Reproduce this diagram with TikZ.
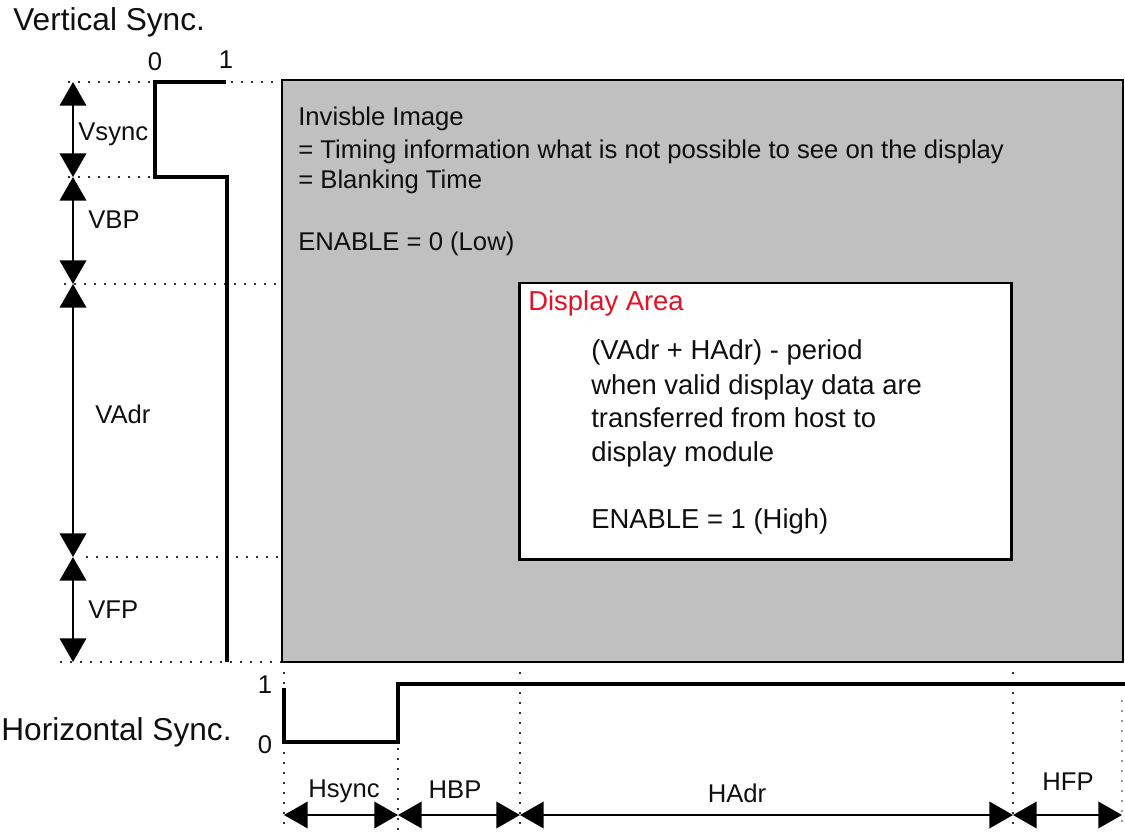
\documentclass[tikz,border=0pt]{standalone}
\usepackage{fontspec}
\setmainfont{Liberation Sans}
\usetikzlibrary{arrows.meta}
\definecolor{blankgray}{RGB}{192,192,192}
\definecolor{txt}{RGB}{15,15,15}
\definecolor{areared}{RGB}{228,18,38}
\tikzset{
  lbl/.style={inner sep=0pt, text=txt, font=\fontsize{14.6}{17}\selectfont},
  biglbl/.style={inner sep=0pt, text=txt, font=\fontsize{18}{21}\selectfont},
  inlbl/.style={inner sep=0pt, text=txt, font=\fontsize{15.6}{19}\selectfont},
  dotln/.style={line width=1.1pt, dash pattern=on 1.1pt off 4.6pt, black!80},
  wave/.style={line width=2.3pt, line join=miter},
  dimarrow/.style={line width=1.6pt, {Triangle[length=13.5pt,width=15pt]}-{Triangle[length=13.5pt,width=15pt]}},
}
\begin{document}
\begin{tikzpicture}[x=0.02cm,y=-0.02cm]
\useasboundingbox (0,0) rectangle (1125,832);

% areas
\draw[fill=blankgray, line width=1.1pt] (282,80) rectangle (1123,662);
\draw[fill=white, line width=1.7pt] (519,283) rectangle (1011,559);

% dotted guide lines (vertical sync)
\draw[dotln] (68,82) -- (151,82);
\draw[dotln] (231,82) -- (280,82);
\draw[dotln] (68,177) -- (152,177);
\draw[dotln] (64,284) -- (280,284);
\draw[dotln] (86,557) -- (280,557);
\draw[dotln] (60,662) -- (281,662);
% dotted guide lines (horizontal sync)
\draw[dotln] (284,672) -- (284,830);
\draw[dotln] (398,748) -- (398,830);
\draw[dotln] (520,672) -- (520,830);
\draw[dotln] (1013,672) -- (1013,830);
\draw[dotln, black!40] (1122,700) -- (1122,830);

% coordinates for dimension arrows
\coordinate (v0) at (73,82);
\coordinate (v1) at (73,177);
\coordinate (v2) at (73,284);
\coordinate (v3) at (73,557);
\coordinate (v4) at (73,662);
\coordinate (h0) at (284,815);
\coordinate (h1) at (398,815);
\coordinate (h2) at (520,815);
\coordinate (h3) at (1013,815);
\coordinate (h4) at (1122,815);

\draw[dimarrow] (v0) -- (v1);
\draw[dimarrow] (v1) -- (v2);
\draw[dimarrow] (v2) -- (v3);
\draw[dimarrow] (v3) -- (v4);
\draw[dimarrow] (h0) -- (h1);
\draw[dimarrow] (h1) -- (h2);
\draw[dimarrow] (h2) -- (h3);
\draw[dimarrow] (h3) -- (h4);

% waveforms
\coordinate (va) at (226,82);
\coordinate (vb) at (155,82);
\coordinate (vc) at (155,177);
\coordinate (vd) at (227,177);
\coordinate (ve) at (227,662);
\draw[wave] (va) -- (vb) -- (vc) -- (vd) -- (ve);
\coordinate (ha) at (284,688);
\coordinate (hb) at (284,742);
\coordinate (hc) at (398,742);
\coordinate (hd) at (398,684);
\coordinate (he) at (1125,684);
\draw[wave] (ha) -- (hb) -- (hc) -- (hd) -- (he);

% labels
\node[biglbl, anchor=base west] (vsynctitle) at (13,30) {Vertical Sync.};
\node[lbl, anchor=base] (vzero) at (155,70) {0};
\node[lbl, anchor=base] (vone) at (226,68) {1};
\node[lbl, anchor=base west] (lvsync) at (78,140) {Vsync};
\node[lbl, anchor=base west] (lvbp) at (88,228) {VBP};
\node[lbl, anchor=base west] (lvadr) at (95,423) {VAdr};
\node[lbl, anchor=base west] (lvfp) at (88,618) {VFP};

\node[biglbl, anchor=base west] (hsynctitle) at (1,740) {Horizontal Sync.};
\node[lbl, anchor=base] (hone) at (265,693) {1};
\node[lbl, anchor=base] (hzero) at (265,753) {0};
\node[lbl, anchor=base] (lhsync) at (344,797) {Hsync};
\node[lbl, anchor=base] (lhbp) at (455,798) {HBP};
\node[lbl, anchor=base] (lhadr) at (737,802) {HAdr};
\node[lbl, anchor=base] (lhfp) at (1068,790) {HFP};

% invisible image text
\node[lbl, anchor=base west] (inv1) at (298,125) {Invisble Image};
\node[lbl, anchor=base west] (inv2) at (298,158) {= Timing information what is not possible to see on the display};
\node[lbl, anchor=base west] (inv3) at (298,188) {= Blanking Time};
\node[lbl, anchor=base west] (inv4) at (298,250) {ENABLE = 0 (Low)};

% display area text
\node[inlbl, anchor=base west, text=areared] (da) at (528,310) {Display Area};
\node[inlbl, anchor=base west] (da1) at (591,359) {(VAdr + HAdr) - period};
\node[inlbl, anchor=base west] (da2) at (591,394) {when valid display data are};
\node[inlbl, anchor=base west] (da3) at (591,427) {transferred from host to};
\node[inlbl, anchor=base west] (da4) at (591,461) {display module};
\node[inlbl, anchor=base west] (da5) at (591,528) {ENABLE = 1 (High)};
\end{tikzpicture}
\end{document}
